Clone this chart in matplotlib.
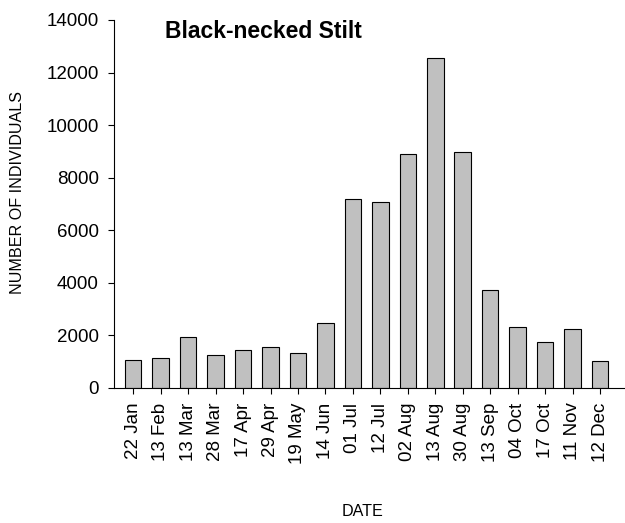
import matplotlib
matplotlib.use('Agg')
import matplotlib.pyplot as plt
import numpy as np

plt.rcParams['font.family'] = ['Liberation Sans', 'DejaVu Sans']

#%% Counts per survey date
dates = ['22 Jan', '13 Feb', '13 Mar', '28 Mar', '17 Apr', '29 Apr', '19 May',
         '14 Jun', '01 Jul', '12 Jul', '02 Aug', '13 Aug', '30 Aug', '13 Sep',
         '04 Oct', '17 Oct', '11 Nov', '12 Dec']
counts = [1080, 1150, 1950, 1240, 1430, 1560, 1340, 2460, 7180, 7080,
          8890, 12540, 8980, 3720, 2320, 1740, 2230, 1010]

#%% Plot
fig = plt.figure(figsize=(6.25, 5.23), dpi=100)
ax = fig.add_axes([114/625, 1 - 388/523, 1 - 114/625, 368/523])

x = np.arange(len(dates))
ax.bar(x, counts, width=0.6, color='#c0c0c0', edgecolor='black', linewidth=0.8)

ax.set_xlim(-0.70, 17.91)
ax.set_ylim(0, 14000)
ax.set_yticks(np.arange(0, 14001, 2000))
ax.set_xticks(x)
ax.set_xticklabels(dates, rotation=90, fontsize=13.5)
ax.tick_params(axis='y', labelsize=13.5, length=4.5, width=0.8, pad=6.5)
ax.tick_params(axis='x', length=4.5, width=0.8, pad=6)

for s in ['top', 'right']:
    ax.spines[s].set_visible(False)
for s in ['left', 'bottom']:
    ax.spines[s].set_linewidth(0.8)

fig.text(17.5/625, 1 - 193/523, 'NUMBER OF INDIVIDUALS', rotation=90,
         fontsize=11.6, ha='center', va='center')
fig.text(362/625, 1 - 511/523, 'DATE', fontsize=11.6, ha='center', va='center')
fig.text(165/625, 1 - 31/523, 'Black-necked Stilt', fontsize=16.5,
         fontweight='bold', ha='left', va='center')

fig.savefig('out.png', dpi=100)
